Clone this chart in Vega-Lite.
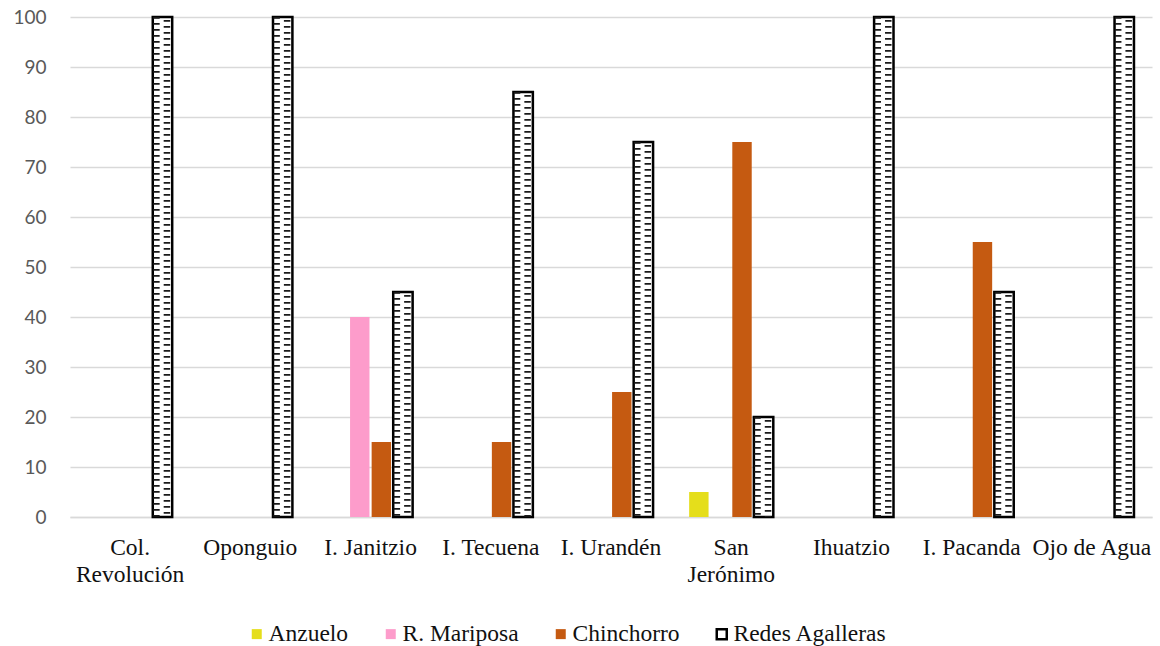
{
  "$schema": "https://vega.github.io/schema/vega-lite/v6.json",
  "autosize": "none",
  "width": 1082,
  "height": 500,
  "padding": {"left": 70, "top": 17, "right": 8, "bottom": 129},
  "background": "white",
  "config": {
    "view": {"stroke": null},
    "axis": {"grid": false, "ticks": false}
  },
  "data": {
    "values": [
      {"sitio": "Col. Revolución", "arte": "Redes Agalleras", "pct": 100},
      {"sitio": "Oponguio", "arte": "Redes Agalleras", "pct": 100},
      {"sitio": "I. Janitzio", "arte": "R. Mariposa", "pct": 40},
      {"sitio": "I. Janitzio", "arte": "Chinchorro", "pct": 15},
      {"sitio": "I. Janitzio", "arte": "Redes Agalleras", "pct": 45},
      {"sitio": "I. Tecuena", "arte": "Chinchorro", "pct": 15},
      {"sitio": "I. Tecuena", "arte": "Redes Agalleras", "pct": 85},
      {"sitio": "I. Urandén", "arte": "Chinchorro", "pct": 25},
      {"sitio": "I. Urandén", "arte": "Redes Agalleras", "pct": 75},
      {"sitio": "San Jerónimo", "arte": "Anzuelo", "pct": 5},
      {"sitio": "San Jerónimo", "arte": "Chinchorro", "pct": 75},
      {"sitio": "San Jerónimo", "arte": "Redes Agalleras", "pct": 20},
      {"sitio": "Ihuatzio", "arte": "Redes Agalleras", "pct": 100},
      {"sitio": "I. Pacanda", "arte": "Chinchorro", "pct": 55},
      {"sitio": "I. Pacanda", "arte": "Redes Agalleras", "pct": 45},
      {"sitio": "Ojo de Agua", "arte": "Redes Agalleras", "pct": 100}
    ]
  },
  "encoding": {
    "x": {
      "field": "sitio",
      "type": "nominal",
      "sort": null,
      "title": null,
      "scale": {
        "domain": ["Col. Revolución", "Oponguio", "I. Janitzio", "I. Tecuena", "I. Urandén", "San Jerónimo", "Ihuatzio", "I. Pacanda", "Ojo de Agua"],
        "paddingInner": 0.3,
        "paddingOuter": 0.15
      },
      "axis": {
        "labelAngle": 0,
        "labelFont": "Liberation Serif",
        "labelFontSize": 23.5,
        "labelColor": "#111111",
        "labelPadding": 18,
        "labelLineHeight": 27,
        "labelExpr": "datum.label == 'Col. Revolución' ? ['Col.', 'Revolución'] : datum.label == 'San Jerónimo' ? ['San', 'Jerónimo'] : datum.label",
        "domain": true,
        "domainColor": "#d9d9d9",
        "domainWidth": 1.5
      }
    },
    "y": {
      "field": "pct",
      "type": "quantitative",
      "title": null,
      "scale": {"domain": [0, 100], "nice": false},
      "axis": {
        "values": [0, 10, 20, 30, 40, 50, 60, 70, 80, 90, 100],
        "grid": true,
        "gridColor": "#d9d9d9",
        "gridWidth": 1.5,
        "domain": false,
        "labelFont": "Lato",
        "labelFontSize": 19,
        "labelColor": "#595959",
        "labelPadding": 24
      }
    }
  },
  "resolve": {"scale": {"xOffset": "independent"}},
  "layer": [
    {
      "mark": {"type": "bar", "strokeWidth": 2.5},
      "encoding": {
        "xOffset": {
          "field": "arte",
          "type": "nominal",
          "scale": {
            "domain": ["Anzuelo", "R. Mariposa", "Chinchorro", "Redes Agalleras"],
            "paddingInner": 0.1
          }
        },
        "color": {
          "field": "arte",
          "type": "nominal",
          "scale": {
            "domain": ["Anzuelo", "R. Mariposa", "Chinchorro", "Redes Agalleras"],
            "range": ["#e5de1b", "#fd9ccb", "#c55a11", "#ffffff"]
          },
          "legend": {
            "orient": "none",
            "legendX": 175,
            "legendY": 605,
            "direction": "horizontal",
            "title": null,
            "symbolType": "square",
            "symbolSize": 100,
            "symbolStrokeWidth": 2.5,
            "labelFont": "Liberation Serif",
            "labelFontSize": 23.5,
            "labelColor": "#111111",
            "labelOffset": 0,
            "columnPadding": 30
          }
        },
        "stroke": {
          "field": "arte",
          "type": "nominal",
          "scale": {
            "domain": ["Anzuelo", "R. Mariposa", "Chinchorro", "Redes Agalleras"],
            "range": ["transparent", "transparent", "transparent", "#000000"]
          },
          "legend": null
        }
      }
    },
    {
      "transform": [{"filter": "datum.arte == 'Redes Agalleras'"}],
      "mark": {"type": "rule", "color": "#1a1a1a", "strokeWidth": 6.5, "strokeDash": [1.8, 4.2]},
      "encoding": {
        "xOffset": {
          "datum": "redes-izq",
          "type": "nominal",
          "scale": {
            "domain": ["anz-izq", "anz-der", "mar-izq", "mar-der", "chi-izq", "chi-der", "redes-izq", "redes-der"],
            "paddingInner": 0,
            "paddingOuter": 0
          }
        },
        "y2": {"datum": 0}
      }
    },
    {
      "transform": [{"filter": "datum.arte == 'Redes Agalleras'"}],
      "mark": {"type": "rule", "color": "#1a1a1a", "strokeWidth": 6.5, "strokeDash": [1.8, 4.2], "strokeDashOffset": 3},
      "encoding": {
        "xOffset": {
          "datum": "redes-der",
          "type": "nominal",
          "scale": {
            "domain": ["anz-izq", "anz-der", "mar-izq", "mar-der", "chi-izq", "chi-der", "redes-izq", "redes-der"],
            "paddingInner": 0,
            "paddingOuter": 0
          }
        },
        "y2": {"datum": 0}
      }
    }
  ]
}
